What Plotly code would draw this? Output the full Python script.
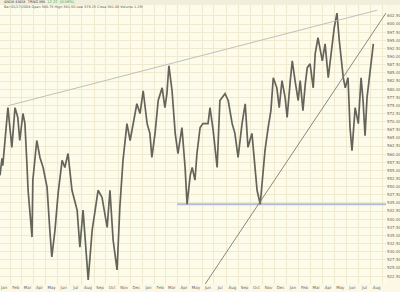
import pandas as pd
import plotly.graph_objects as go

# ---- data ----
start_date = pd.Timestamp("2005-01-16")
day_offsets = [-10, -5, -3, 3, 10, 20, 28, 35, 40, 48, 53, 58, 61, 71, 73, 83, 91, 99, 109, 116,
               121, 129, 137, 147, 154, 162, 172, 185, 192, 200, 210, 213, 223, 230, 238, 248, 261, 268, 276, 286,
               293, 301, 311, 319, 326, 336, 344, 352, 362, 369, 374, 382, 390, 400, 407, 412, 417, 425, 433, 440,
               450, 458, 463, 471, 476, 483, 488, 496, 503, 516, 521, 529, 539, 546, 559, 567, 577, 584, 592, 602,
               610, 617, 627, 635, 640, 648, 655, 660, 668, 675, 681, 690, 696, 703, 711, 716, 724, 729, 736, 744,
               749, 756, 762, 767, 774, 782, 787, 794, 805, 812, 820, 830, 835, 842, 848, 858, 863, 870, 875, 880,
               888, 896, 903, 908, 913, 918, 926, 934]
close = [553.5, 558.7, 556.5, 564.2, 574.3, 562.1, 574.3, 571.3, 564.2, 572.5, 569.4, 557.2, 548.9, 534.5, 552.0, 564.2, 559.0, 555.9, 549.8, 536.6,
         528.4, 536.6, 548.0, 558.1, 555.9, 560.2, 548.9, 542.8, 531.4, 542.8, 527.4, 521.3, 536.6, 542.8, 548.9, 546.7, 537.5, 548.9, 533.6, 524.4,
         543.7, 558.1, 569.4, 564.2, 569.4, 575.5, 572.5, 579.5, 569.4, 566.4, 559.0, 566.4, 576.5, 580.4, 574.3, 578.6, 587.2, 579.5, 566.4, 560.2,
         568.2, 555.9, 544.6, 553.5, 555.9, 552.0, 560.2, 568.2, 569.4, 569.4, 574.3, 567.3, 555.9, 576.5, 578.6, 576.5, 569.4, 566.4, 559.0, 569.4,
         575.5, 562.1, 566.4, 555.9, 548.9, 544.6, 554.1, 561.1, 568.2, 573.4, 583.5, 580.4, 574.3, 582.6, 577.4, 571.3, 582.6, 588.7, 582.6, 576.5,
         582.6, 573.4, 581.7, 586.6, 587.8, 580.4, 590.9, 595.8, 588.7, 593.9, 583.5, 594.8, 598.8, 603.4, 594.8, 583.5, 580.4, 583.5, 568.2, 561.1,
         574.3, 569.4, 583.5, 576.5, 565.7, 577.4, 586.6, 593.9]

# trend lines (endpoints)
upper_off = [10, 944]
upper_val = [574.9, 604.3]
rising_off = [509, 966]
rising_val = [520.1, 603.4]
support_off = [438, 966]
support_val = [544.6, 544.6]

y_ticks = [522.5 + 2.5 * i for i in range(33)]

def to_dates(offs):
    return start_date + pd.to_timedelta(offs, unit="D")

fig = go.Figure()
fig.add_trace(go.Scatter(x=to_dates(support_off), y=support_val, mode="lines",
                         line=dict(color="#b3bdd6", width=2.2), hoverinfo="skip"))
fig.add_trace(go.Scatter(x=to_dates(day_offsets), y=close, mode="lines",
                         line=dict(color="#64645a", width=1.7)))
fig.add_trace(go.Scatter(x=to_dates(upper_off), y=upper_val, mode="lines",
                         line=dict(color="#b9b9b4", width=0.9), hoverinfo="skip"))
fig.add_trace(go.Scatter(x=to_dates(rising_off), y=rising_val, mode="lines",
                         line=dict(color="#7c7c74", width=0.9), hoverinfo="skip"))

fig.update_layout(
    width=400, height=292,
    margin=dict(l=0, r=14, t=5, b=8),
    paper_bgcolor="#fbf9e6",
    plot_bgcolor="#fdfbea",
    showlegend=False,
    font=dict(family="DejaVu Sans", size=4, color="#555555"),
    xaxis=dict(
        range=[to_dates([-10])[0], to_dates([966])[0]],
        dtick="M1", tickformat="%b", ticklabelmode="period",
        showgrid=True, gridcolor="#efeacf", gridwidth=1,
        zeroline=False, showline=False, ticks="",
        tickfont=dict(size=4, color="#666666"),
    ),
    yaxis=dict(
        range=[520.08, 605.87], side="right",
        tickvals=y_ticks, ticktext=[f"{v:.2f}" for v in y_ticks],
        showgrid=True, gridcolor="#efeacf", gridwidth=1,
        zeroline=False, showline=False, ticks="",
        tickfont=dict(size=4, color="#666666"),
    ),
    shapes=[dict(type="rect", xref="paper", yref="paper", x0=0, x1=1.04, y0=1.0, y1=1.02,
                 fillcolor="#f1eedc", line=dict(width=0), layer="below")],
    annotations=[
        dict(xref="paper", yref="paper", x=0.005, y=1.009, xanchor="left", yanchor="middle",
             showarrow=False, font=dict(size=3.6, color="#444444"),
             text="$NDX $NDX  TRNG.MN  <span style='color:#3aa23a'>12.22  (0.58%)</span>"),
        dict(xref="paper", yref="paper", x=0.005, y=0.993, xanchor="left", yanchor="middle",
             showarrow=False, font=dict(size=3.4, color="#555555"),
             text="Bar 01/27/2004 Open 580.75 High 581.50 Low 579.25 Close 581.00 Volume 1.2M"),
    ],
)

fig.write_html("out.html")
